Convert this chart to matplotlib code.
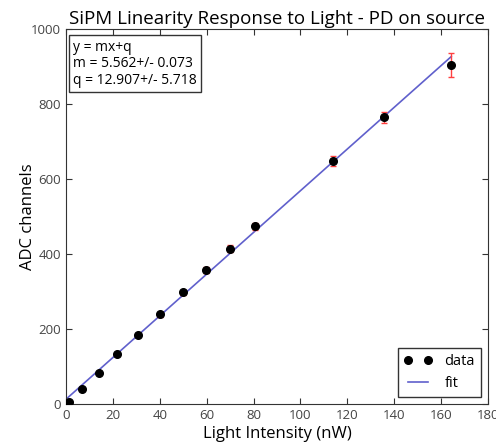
import matplotlib
matplotlib.use("Agg")
import matplotlib.pyplot as plt
from matplotlib.lines import Line2D
import numpy as np

plt.rcParams['font.family'] = ['Open Sans', 'DejaVu Sans']

intensity = [1.2, 6.7, 13.9, 21.8, 30.6, 40.0, 49.7, 59.8, 69.9, 80.5, 113.7, 135.7, 164.3]
adc = [4.5, 39, 83, 133, 185, 239, 298, 357, 414, 474, 649, 765, 904]
adc_err = [1, 3, 3, 4, 5, 6, 7, 8, 9, 10, 13, 15, 33]
slope = 5.562
intercept = 12.907
slope_err = 0.073
intercept_err = 5.718

fig = plt.figure(figsize=(4.96, 4.48), dpi=100)
ax = fig.add_axes([0.133, 0.098, 0.851, 0.837])

ax.errorbar(intensity, adc, yerr=adc_err, fmt='o', color='k', ecolor='#ff4040',
            markersize=5.5, elinewidth=1, capsize=2, zorder=3)
xf = np.array([intensity[0] - 1.2, intensity[-1]])
ax.plot(xf, slope * xf + intercept, color='#6060cc', lw=1.2, zorder=2)

ax.set_xlim(0, 180)
ax.set_ylim(0, 1000)
ax.set_xticks(np.arange(0, 181, 20))
ax.set_yticks(np.arange(0, 1001, 200))
ax.tick_params(direction='in', labelsize=9.5, top=True, right=True, length=4,
               colors='#333333', labelcolor='#444444')
for s in ax.spines.values():
    s.set_color('#333333')

ax.set_title('SiPM Linearity Response to Light - PD on source', fontsize=13.5, pad=4)
ax.set_xlabel('Light Intensity (nW)', fontsize=12, labelpad=3)
ax.set_ylabel('ADC channels', fontsize=12)
ax.yaxis.set_label_coords(-0.072, 0.5)

txt = 'y = mx+q\nm = %.3f+/- %.3f\nq = %.3f+/- %.3f' % (slope, slope_err, intercept, intercept_err)
ax.text(0.017, 0.972, txt, transform=ax.transAxes, va='top', ha='left', fontsize=10,
        linespacing=1.15,
        bbox=dict(boxstyle='square,pad=0.3', fc='white', ec='#333333'))

handles = [Line2D([], [], ls='none', marker='o', color='k', markersize=5.5),
           Line2D([], [], color='#6060cc', lw=1.2)]
ax.legend(handles, ['data', 'fit'], loc='lower right', numpoints=2, fontsize=10.5,
          fancybox=False, edgecolor='#333333', framealpha=1, borderaxespad=0.5,
          handlelength=2.0)

fig.savefig('out.png', dpi=100)
